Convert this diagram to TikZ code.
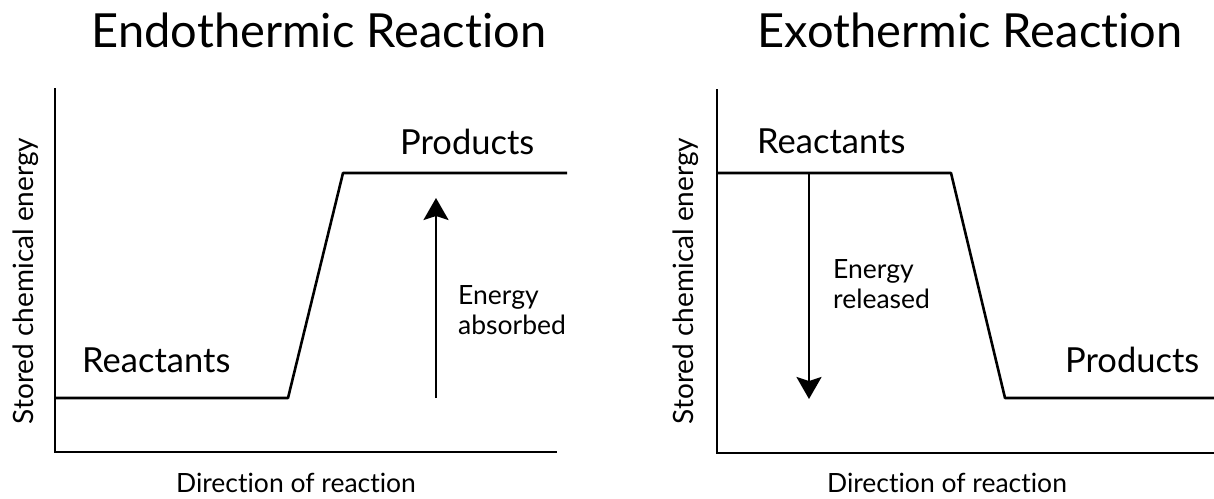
\documentclass[tikz,border=0pt]{standalone}
\usepackage{fontspec}
\setmainfont{Lato}[Ligatures=NoCommon]
\usetikzlibrary{arrows.meta,positioning}

\begin{document}
\begin{tikzpicture}[x=1pt,y=-1pt,
        axis/.style={line width=2.6pt,line join=miter},
        level/.style={line width=2.6pt,line join=round},
        energyarrow/.style={-{Stealth[length=22pt,width=25pt,inset=4pt]},line width=2.6pt},
        title/.style={font=\fontsize{47}{52}\selectfont,anchor=base,inner sep=0pt},
        statelabel/.style={font=\fontsize{34.5}{40}\selectfont,anchor=base west,inner sep=0pt},
        axislabel/.style={font=\fontsize{26.5}{30}\selectfont,anchor=base,inner sep=0pt},
        note/.style={font=\fontsize{26.5}{30}\selectfont,align=left,inner sep=0pt,anchor=base west}]
  \useasboundingbox (0,0) rectangle (1214,498);

  % endothermic panel
  \node[title] (endo-title) at (319,47) {Endothermic Reaction};
  \coordinate (endo-top) at (55,88);
  \coordinate (endo-origin) at (55,452);
  \coordinate (endo-right) at (557,452);
  \draw[axis] (endo-top) -- (endo-origin) -- (endo-right);
  \coordinate (endo-r1) at (55,398);
  \coordinate (endo-r2) at (288,398);
  \coordinate (endo-p1) at (343,173);
  \coordinate (endo-p2) at (567,173);
  \draw[level] (endo-r1) -- (endo-r2) -- (endo-p1) -- (endo-p2);
  \coordinate (endo-a1) at (436,398);
  \coordinate (endo-a2) at (436,198);
  \draw[energyarrow] (endo-a1) -- (endo-a2);
  \node[statelabel] (endo-reactants) at (82,372) {Reactants};
  \node[statelabel] (endo-products) at (400,154) {Products};
  \node[note] (endo-note) at (458,334) {Energy\\absorbed};
  \node[axislabel] (endo-xlabel) at (296,492) {Direction of reaction};
  \node[axislabel,font=\fontsize{28}{32}\selectfont,rotate=90] (endo-ylabel) at (33,281) {Stored chemical energy};

  % exothermic panel
  \node[title] (exo-title) at (970,47) {Exothermic Reaction};
  \coordinate (exo-top) at (717,89);
  \coordinate (exo-origin) at (717,453);
  \coordinate (exo-right) at (1214,453);
  \draw[axis] (exo-top) -- (exo-origin) -- (exo-right);
  \coordinate (exo-r1) at (717,173);
  \coordinate (exo-r2) at (951,173);
  \coordinate (exo-p1) at (1005,398);
  \coordinate (exo-p2) at (1214,398);
  \draw[level] (exo-r1) -- (exo-r2) -- (exo-p1) -- (exo-p2);
  \coordinate (exo-a1) at (809,173);
  \coordinate (exo-a2) at (809,399);
  \draw[energyarrow] (exo-a1) -- (exo-a2);
  \node[statelabel] (exo-reactants) at (757,153) {Reactants};
  \node[statelabel] (exo-products) at (1065,372) {Products};
  \node[note] (exo-note) at (833,308) {Energy\\released};
  \node[axislabel] (exo-xlabel) at (947,492) {Direction of reaction};
  \node[axislabel,font=\fontsize{28}{32}\selectfont,rotate=90] (exo-ylabel) at (693,281) {Stored chemical energy};
\end{tikzpicture}
\end{document}
